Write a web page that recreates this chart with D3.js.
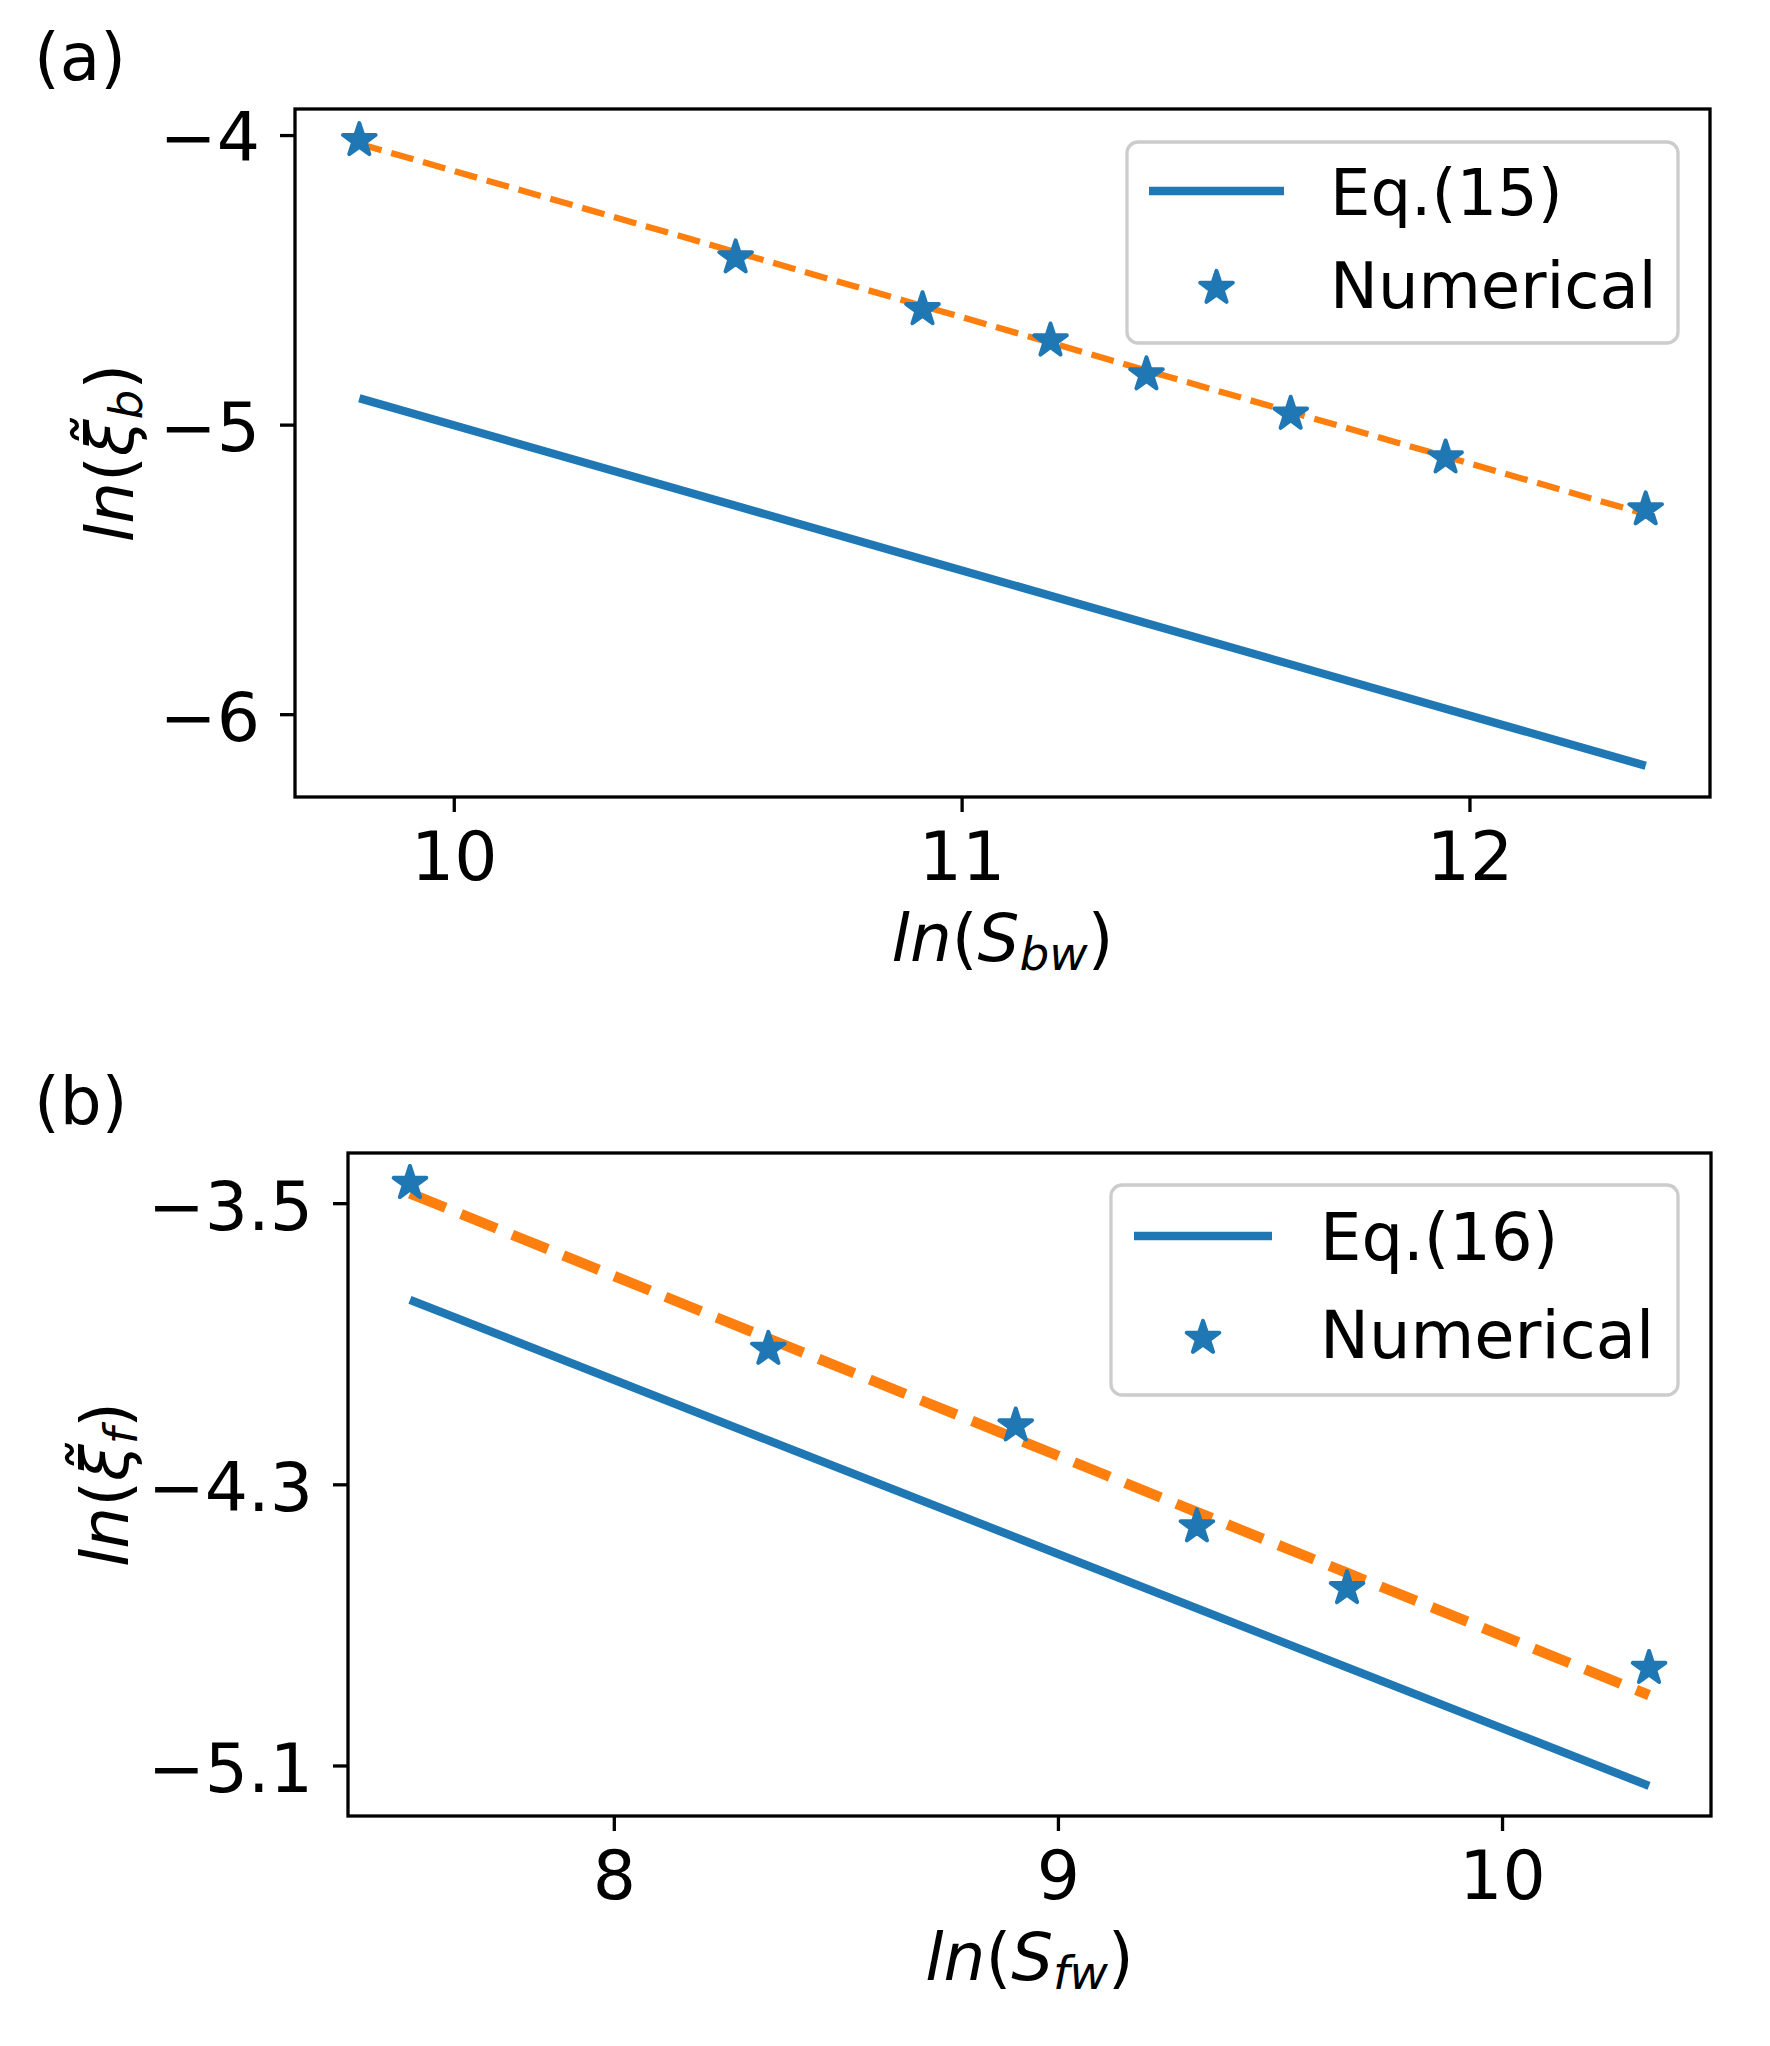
<!DOCTYPE html>
<html>
<head>
<meta charset="utf-8">
<script src="https://cdn.jsdelivr.net/npm/d3@7"></script>
<style>
  body { margin: 0; background: #fff; }
  svg { display: block; }
  text { font-family: "DejaVu Sans", sans-serif; fill: #000; }
</style>
</head>
<body>
<script>
// panel (a): backward
var xB = [9.814, 10.555, 10.923, 11.175, 11.364, 11.648, 11.953, 12.347];
var numB = [-4.018, -4.423, -4.602, -4.710, -4.827, -4.963, -5.114, -5.293];
var eqB = [-4.909, -5.280, -5.465, -5.591, -5.686, -5.828, -5.981, -6.178];
var fitB = [-4.030, -4.404, -4.590, -4.717, -4.813, -4.956, -5.110, -5.309];
var xTicksB = [10, 11, 12];
var yTicksB = [-4, -5, -6];

// panel (b): forward
var xF = [7.541, 8.348, 8.905, 9.313, 9.651, 10.331];
var numF = [-3.443, -3.915, -4.133, -4.420, -4.596, -4.823];
var eqF = [-3.775, -4.175, -4.451, -4.653, -4.821, -5.158];
var fitF = [-3.472, -3.885, -4.170, -4.379, -4.552, -4.900];
var xTicksF = [8, 9, 10];
var yTicksF = [-3.5, -4.3, -5.1];

var blue = '#1f77b4', orange = '#ff7f0e';
var W = 1770, H = 2046;
var starSize = 330;

var svg = d3.select('body').append('svg')
	.attr('width', W)
	.attr('height', H);

function minus(v) {
	return String(v).replace('-', '\u2212');
}

// matplotlib-like 5% margins
function padded(vals) {
	var e = d3.extent(vals);
	var m = (e[1] - e[0]) * 0.05;
	return [e[0] - m, e[1] + m];
}

function drawPanel(p) {
	var g = svg.append('g');
	var x = d3.scaleLinear().domain(padded(p.xs)).range([p.left, p.right]);
	var y = d3.scaleLinear()
		.domain(padded(p.num.concat(p.eq, p.fit)))
		.range([p.bottom, p.top]);

	// axes
	var xAxis = d3.axisBottom(x).tickValues(p.xTicks).tickSize(15).tickPadding(20)
		.tickSizeOuter(0).tickFormat(function(d) { return minus(d); });
	var yAxis = d3.axisLeft(y).tickValues(p.yTicks).tickSize(15).tickPadding(20)
		.tickSizeOuter(0).tickFormat(function(d) { return minus(d); });

	var gx = g.append('g').attr('transform', 'translate(0,' + p.bottom + ')').call(xAxis);
	var gy = g.append('g').attr('transform', 'translate(' + p.left + ',0)').call(yAxis);
	[gx, gy].forEach(function(a) {
		a.select('.domain').remove();
		a.selectAll('line').attr('stroke', '#000').attr('stroke-width', 3.3);
		a.selectAll('text').attr('font-size', 68).attr('fill', '#000')
			.style('font-family', '"DejaVu Sans", sans-serif');
	});
	gy.selectAll('text').attr('dy', '0.38em');

	// data lines
	var line = d3.line()
		.x(function(d) { return x(d[0]); })
		.y(function(d) { return y(d[1]); });

	g.append('path')
		.datum(d3.zip(p.xs, p.eq))
		.attr('d', line)
		.attr('fill', 'none')
		.attr('stroke', blue)
		.attr('stroke-width', 8.3);

	g.append('path')
		.datum(d3.zip(p.xs, p.fit))
		.attr('d', line)
		.attr('fill', 'none')
		.attr('stroke', orange)
		.attr('stroke-width', p.dashW)
		.attr('stroke-dasharray', (3.7 * p.dashW) + ',' + (1.6 * p.dashW));

	g.selectAll('.star')
		.data(d3.zip(p.xs, p.num))
		.enter()
		.append('path')
		.attr('class', 'star')
		.attr('d', d3.symbol(d3.symbolStar, starSize))
		.attr('transform', function(d) { return 'translate(' + x(d[0]) + ',' + y(d[1]) + ')'; })
		.attr('fill', blue)
		.attr('stroke', blue)
		.attr('stroke-width', 4)
		.attr('stroke-linejoin', 'round');

	// frame
	g.append('rect')
		.attr('x', p.left).attr('y', p.top)
		.attr('width', p.right - p.left).attr('height', p.bottom - p.top)
		.attr('fill', 'none').attr('stroke', '#000').attr('stroke-width', 3.3);

	// x label
	var xl = g.append('text')
		.attr('x', (p.left + p.right) / 2)
		.attr('y', p.bottom + 164)
		.attr('text-anchor', 'middle')
		.attr('font-size', 66);
	xl.append('tspan').attr('font-style', 'italic').text('ln');
	xl.append('tspan').text('(');
	xl.append('tspan').attr('font-style', 'italic').text('S');
	xl.append('tspan').attr('font-style', 'italic').attr('font-size', 47).attr('dy', 9).text(p.xSub);
	xl.append('tspan').attr('dy', -9).text(')');

	// y label
	var cy = (p.top + p.bottom) / 2;
	var yl = g.append('text')
		.attr('x', p.ylX)
		.attr('y', cy)
		.attr('transform', 'rotate(-90,' + p.ylX + ',' + cy + ')')
		.attr('text-anchor', 'middle')
		.attr('font-size', 66);
	yl.append('tspan').attr('font-style', 'italic').text('ln');
	yl.append('tspan').text('(');
	yl.append('tspan').attr('font-style', 'italic').text('\u03be\u0303');
	yl.append('tspan').attr('font-style', 'italic').attr('font-size', 47).attr('dy', 9).text(p.ySub);
	yl.append('tspan').attr('dy', -9).text(')');

	// panel tag
	g.append('text')
		.attr('x', 34)
		.attr('y', p.tagY)
		.attr('font-size', 66)
		.text(p.tag);

	// legend
	var L = p.legend;
	g.append('rect')
		.attr('x', L.x0).attr('y', L.y0)
		.attr('width', L.x1 - L.x0).attr('height', L.y1 - L.y0)
		.attr('rx', 11).attr('ry', 11)
		.attr('fill', '#fff').attr('fill-opacity', 0.8)
		.attr('stroke', '#cccccc').attr('stroke-width', 3.3);
	g.append('line')
		.attr('x1', L.hx0).attr('x2', L.hx1)
		.attr('y1', L.row1).attr('y2', L.row1)
		.attr('stroke', blue).attr('stroke-width', 8.3);
	g.append('path')
		.attr('d', d3.symbol(d3.symbolStar, starSize))
		.attr('transform', 'translate(' + ((L.hx0 + L.hx1) / 2) + ',' + L.row2 + ')')
		.attr('fill', blue)
		.attr('stroke', blue)
		.attr('stroke-width', 4)
		.attr('stroke-linejoin', 'round');
	g.append('text')
		.attr('x', L.tx).attr('y', L.row1 + 0.37 * L.fs)
		.attr('font-size', L.fs)
		.text(p.eqLabel);
	g.append('text')
		.attr('x', L.tx).attr('y', L.row2 + 0.31 * L.fs)
		.attr('font-size', L.fs)
		.text('Numerical');
}

drawPanel({
	xs: xB, num: numB, eq: eqB, fit: fitB,
	xTicks: xTicksB, yTicks: yTicksB,
	left: 295, right: 1710, top: 109, bottom: 797,
	dashW: 6.25, xSub: 'bw', ySub: 'b', ylX: 133,
	tag: '(a)', tagY: 80, eqLabel: 'Eq.(15)',
	legend: { x0: 1127, x1: 1678, y0: 142, y1: 343, hx0: 1149, hx1: 1284, tx: 1330, row1: 191, row2: 288, fs: 64 }
});

drawPanel({
	xs: xF, num: numF, eq: eqF, fit: fitF,
	xTicks: xTicksF, yTicks: yTicksF,
	left: 348, right: 1711, top: 1153, bottom: 1816,
	dashW: 10.4, xSub: 'fw', ySub: 'f', ylX: 128,
	tag: '(b)', tagY: 1124, eqLabel: 'Eq.(16)',
	legend: { x0: 1111, x1: 1678, y0: 1185, y1: 1395, hx0: 1134, hx1: 1272, tx: 1320, row1: 1236, row2: 1338, fs: 65.5 }
});
</script>
</body>
</html>
